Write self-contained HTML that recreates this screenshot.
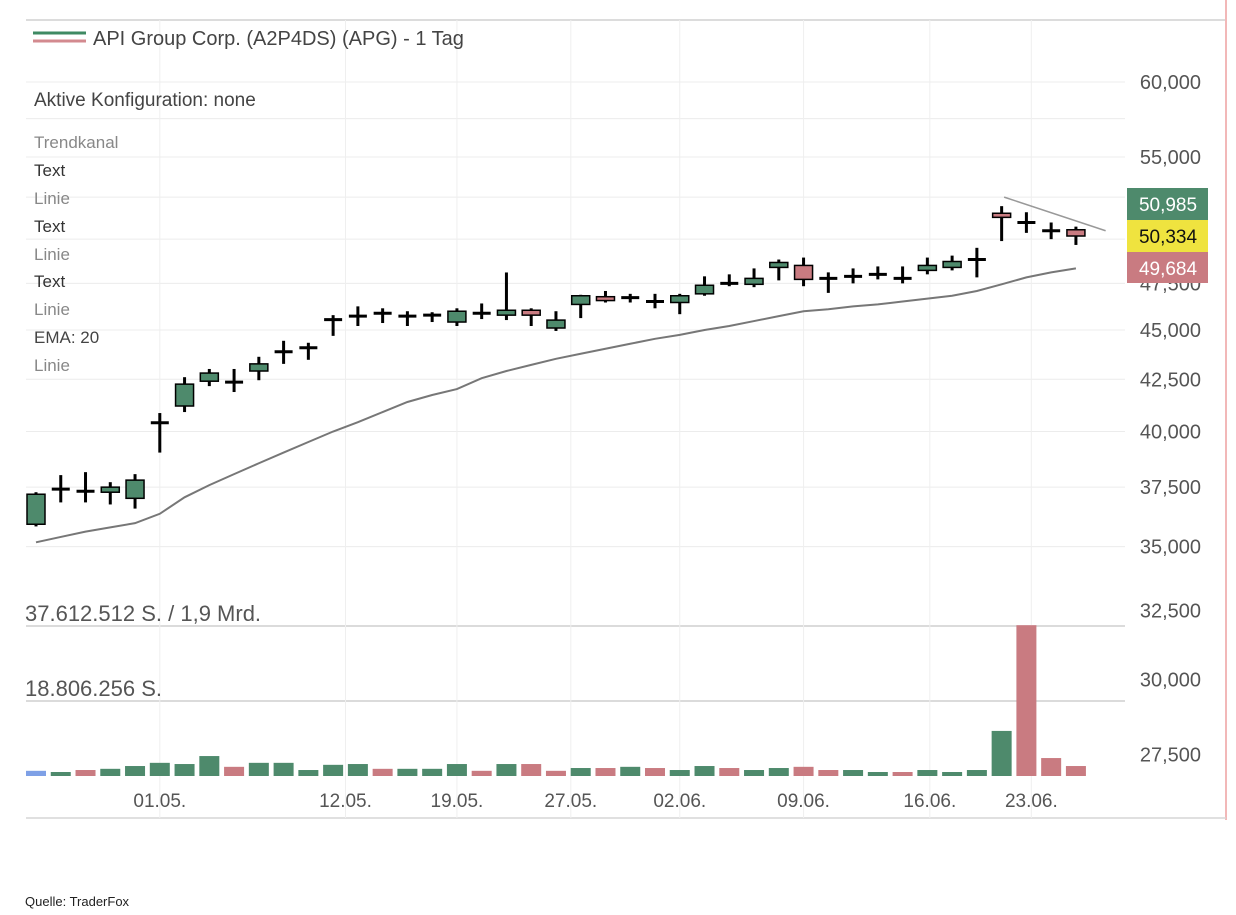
<!DOCTYPE html>
<html><head><meta charset="utf-8"><style>
body{margin:0;background:#fff;width:1236px;height:910px;overflow:hidden;font-family:"Liberation Sans",sans-serif}
svg text{font-family:"Liberation Sans",sans-serif}
</style></head><body>
<svg id="chart" width="1236" height="910" xmlns="http://www.w3.org/2000/svg">
<rect x="0" y="0" width="1236" height="910" fill="#fff"/>
<line x1="26" y1="20" x2="1226" y2="20" stroke="#d0d0d0" stroke-width="1.5"/>
<line x1="1226" y1="0" x2="1226" y2="820" stroke="#f2b8b8" stroke-width="2"/>
<line x1="26" y1="818" x2="1226" y2="818" stroke="#d6d6d6" stroke-width="1.5"/>
<g id="grid"></g><g id="vol"></g><g id="ema"></g><g id="candles"></g><g id="axis"></g>
<g>
<line x1="33" y1="33" x2="86" y2="33" stroke="#3f8a63" stroke-width="3"/>
<line x1="33" y1="41" x2="86" y2="41" stroke="#d38a8f" stroke-width="3"/>
<text x="93" y="45" font-size="20" fill="#444">API Group Corp. (A2P4DS) (APG) - 1 Tag</text>
<text x="34" y="106" font-size="19" fill="#444">Aktive Konfiguration: none</text>
<text x="34" y="148" font-size="17" fill="#888">Trendkanal</text>
<text x="34" y="176" font-size="17" fill="#333">Text</text>
<text x="34" y="204" font-size="17" fill="#888">Linie</text>
<text x="34" y="232" font-size="17" fill="#333">Text</text>
<text x="34" y="260" font-size="17" fill="#888">Linie</text>
<text x="34" y="287" font-size="17" fill="#333">Text</text>
<text x="34" y="315" font-size="17" fill="#888">Linie</text>
<text x="34" y="343" font-size="17" fill="#444">EMA: 20</text>
<text x="34" y="371" font-size="17" fill="#888">Linie</text>
</g>
<text x="25" y="621" font-size="22" fill="#555">37.612.512 S. / 1,9 Mrd.</text>
<text x="25" y="696" font-size="22" fill="#555">18.806.256 S.</text>
<g>
<rect x="1127" y="188" width="81" height="32" fill="#4e8a6c"/><text x="1168" y="211" font-size="19" fill="#fff" text-anchor="middle">50,985</text>
<rect x="1127" y="220" width="81" height="32" fill="#efe33f"/><text x="1168" y="243" font-size="19" fill="#111" text-anchor="middle">50,334</text>
<rect x="1127" y="252" width="81" height="31" fill="#c97b81"/><text x="1168" y="275" font-size="19" fill="#fff" text-anchor="middle">49,684</text>
</g>
<text x="25" y="906" font-size="13" fill="#222">Quelle: TraderFox</text>
</svg>
<script>
const opens=[35920,37412,37324,37280,37017,40385,41201,42404,42404,42908,43929,44133,45625,45781,45937,45781,45729,45417,45833,45781,46042,45103,46354,46771,46771,46562,46458,46927,47555,47448,48388,48499,47832,47943,48054,47832,48221,48388,48777,51525,51037,50549,50549];
const closes=[37193,37412,37324,37500,37807,40433,42260,42806,42308,43265,43827,44031,45469,45677,45833,45677,45833,45990,45937,46042,45781,45520,46823,46562,46666,46458,46823,47396,47448,47776,48666,47720,47720,47832,47943,47720,48499,48721,48888,51281,50915,50427,50183];
const highs=[37280,38027,38158,37717,38070,40866,42602,43010,43010,43622,44439,44337,45781,46250,46146,45990,45937,46146,46406,48105,46146,45990,46875,47083,46927,46927,46927,47889,48000,48332,48832,48943,48110,48332,48443,48443,48943,49055,49500,51952,51586,50976,50732];
const lows=[35830,36842,36842,36754,36578,39034,40913,42163,41875,42452,43265,43470,44694,45208,45365,45208,45417,45208,45573,45521,45208,44949,45625,46458,46458,46146,45833,46823,47344,47292,47665,47344,46979,47500,47720,47500,48000,48221,47832,49889,50366,50000,49666];
const ema=[35176,35395,35615,35790,35966,36359,37061,37588,38071,38554,39034,39517,40000,40433,40913,41394,41730,42019,42552,42909,43215,43521,43776,44031,44286,44541,44745,45000,45208,45469,45729,45990,46094,46250,46354,46510,46666,46823,47083,47448,47832,48110,48332];
const volumes=[1.3,1.0,1.5,1.8,2.5,3.3,3.0,5.0,2.3,3.3,3.3,1.5,2.8,3.0,1.8,1.8,1.8,3.0,1.3,3.0,3.0,1.3,2.0,2.0,2.3,2.0,1.5,2.5,2.0,1.5,2.0,2.3,1.5,1.5,1.0,1.0,1.5,1.0,1.5,11.3,37.8,4.5,2.5];
const volumeUp=[1,1,0,1,1,1,1,1,0,1,1,1,1,1,0,1,1,1,0,1,0,0,1,0,1,0,1,1,0,1,1,0,0,1,1,0,1,1,1,1,0,0,0];
const priceTicks=[27500,30000,32500,35000,37500,40000,42500,45000,47500,50000,52500,55000,57500,60000];
const priceTickLabels=["27,500","30,000","32,500","35,000","37,500","40,000","42,500","45,000","47,500",null,null,"55,000",null,"60,000"];
const dateLabels=["01.05.","12.05.","19.05.","27.05.","02.06.","09.06.","16.06.","23.06."];
const dateIndex=[5,12.5,17,21.6,26.0,31.0,36.1,40.2];
const trendIdx=[39.1,43.2];
const trendPrice=[52500,50490];
const volMax=37.6;

const NS="http://www.w3.org/2000/svg";
const xScale=i=>36+i*24.76;
const yScale=p=>82+862*Math.log(60000/p);
const vScale=v=>776-v/volMax*150;
function mk(tag,attrs,parent){const e=document.createElementNS(NS,tag);for(const k in attrs)e.setAttribute(k,attrs[k]);parent.appendChild(e);return e;}
const G=id=>document.getElementById(id);
const grid=G('grid'),axis=G('axis');
priceTicks.forEach((p,i)=>{
  const y=yScale(p);
  if(y<600){
    const l=mk('line',{x1:26,x2:1125,y1:y,y2:y,stroke:'#ececec','stroke-width':1},grid);
    
    
  }
  if(priceTickLabels[i]){
    const t=mk('text',{x:1201,y:y+7,'font-size':20,fill:'#555','text-anchor':'end'},axis);
    t.textContent=priceTickLabels[i];
    
    
  }
});
[0.5,1].forEach(f=>{
  const y=vScale(volMax*f);
  const l=mk('line',{x1:26,x2:1125,y1:y,y2:y,stroke:'#cfcfcf','stroke-width':1.5},grid);
  
  
});
dateLabels.forEach((d,i)=>{
  const x=xScale(dateIndex[i]);
  const l=mk('line',{x1:x,x2:x,y1:20,y2:818,stroke:'#efefef','stroke-width':1},grid);
  
  
  const t=mk('text',{x:x,y:807,'font-size':19,fill:'#555','text-anchor':'middle'},axis);
  t.textContent=d;
  
  
});
const vg=G('vol');
volumes.forEach((v,i)=>{
  const col=i===0?'#7ea0e6':(volumeUp[i]?'#4e8a6c':'#c97b81');
  const y=vScale(v);
  const r=mk('rect',{x:xScale(i)-10,y:y,width:20,height:776-y,fill:col},vg);
  
  
});
const pts=ema.map((p,i)=>xScale(i)+','+yScale(p)).join(' ');
const el=mk('polyline',{points:pts,fill:'none',stroke:'#777','stroke-width':2},G('ema'));


const tl=mk('line',{x1:xScale(trendIdx[0]),y1:yScale(trendPrice[0]),x2:xScale(trendIdx[1]),y2:yScale(trendPrice[1]),stroke:'#999','stroke-width':1.5},G('ema'));


const cg=G('candles');
opens.forEach((o,i)=>{
  const c=closes[i],x=xScale(i);
  const g=mk('g',{},cg);
  
  
  mk('line',{x1:x,x2:x,y1:yScale(highs[i]),y2:yScale(lows[i]),stroke:'#000','stroke-width':3},g);
  const yt=yScale(Math.max(o,c)),yb=yScale(Math.min(o,c));
  if(yb-yt<3){
    mk('line',{x1:x-9,x2:x+9,y1:(yt+yb)/2,y2:(yt+yb)/2,stroke:'#000','stroke-width':3},g);
  }else{
    mk('rect',{x:x-9,y:yt,width:18,height:yb-yt,fill:c>o?'#4e8a6c':'#c97b81',stroke:'#000','stroke-width':1.5},g);
  }
});
</script>
</body></html>
